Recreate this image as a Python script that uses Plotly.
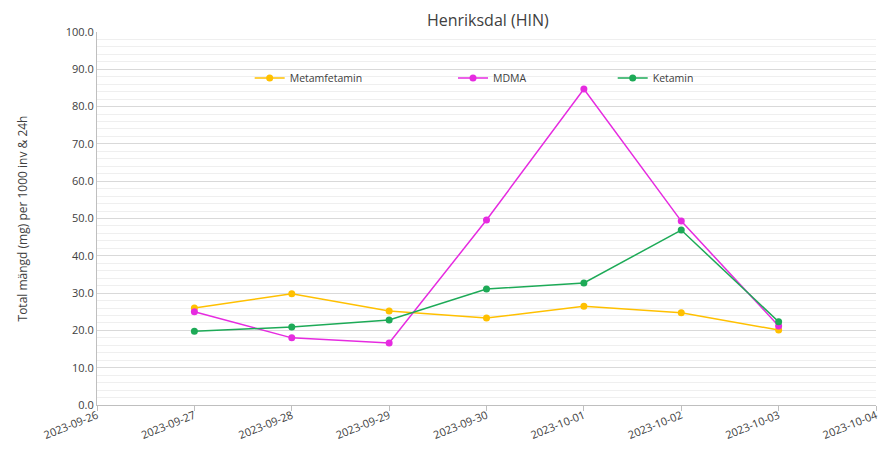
import plotly.graph_objects as go

dates = ["2023-09-27", "2023-09-28", "2023-09-29", "2023-09-30", "2023-10-01", "2023-10-02", "2023-10-03"]
metamfetamin = [26.0, 29.8, 25.2, 23.3, 26.5, 24.7, 20.1]
mdma = [25.0, 18.0, 16.6, 49.6, 84.7, 49.3, 21.2]
ketamin = [19.8, 20.9, 22.8, 31.1, 32.7, 46.9, 22.3]

series = [
    ("Metamfetamin", metamfetamin, "#FFC000", "legend", 0.196),
    ("MDMA", mdma, "#E62BE0", "legend2", 0.457),
    ("Ketamin", ketamin, "#1DAA57", "legend3", 0.662),
]

fig = go.Figure()
for name, vals, col, leg, lx in series:
    fig.add_trace(go.Scatter(
        x=dates, y=vals, name=name, mode="lines+markers",
        line=dict(color=col, width=1.5),
        marker=dict(color=col, size=7),
        legend=leg, showlegend=True,
    ))

font = "Open Sans, Liberation Sans, sans-serif"
legend_common = dict(orientation="h", yanchor="middle", xanchor="left", y=0.877,
                     bgcolor="rgba(0,0,0,0)", font=dict(size=10.5, color="#404040", family=font),
                     itemwidth=30)
fig.update_layout(
    width=878, height=442,
    margin=dict(l=89, r=10, t=24, b=45),
    paper_bgcolor="white", plot_bgcolor="white",
    showlegend=True,
    title=dict(text="Henriksdal (HIN)", x=0.5465, xanchor="center", y=0.972, yanchor="middle",
               font=dict(size=16, color="#404040", family=font)),
    legend=dict(x=series[0][4], **legend_common),
    legend2=dict(x=series[1][4], **legend_common),
    legend3=dict(x=series[2][4], **legend_common),
    xaxis=dict(
        type="date", range=["2023-09-26", "2023-10-04"], dtick=86400000,
        tickformat="%Y-%m-%d", tickangle=-22, ticks="outside", ticklen=5,
        ticklabelstandoff=-6,
        tickcolor="#bfbfbf", showgrid=False, showline=True, linecolor="#bfbfbf",
        tickfont=dict(size=11, color="#404040", family=font), automargin=False,
    ),
    yaxis=dict(
        range=[0, 100], dtick=10, tickformat=".1f", showline=True, linecolor="#bfbfbf",
        gridcolor="#d9d9d9", gridwidth=1, zeroline=False,
        minor=dict(dtick=2, showgrid=True, gridcolor="#efefef", gridwidth=1),
        tickfont=dict(size=11, color="#404040", family=font), automargin=False,
        title=dict(text="Total mängd (mg) per 1000 inv & 24h", standoff=35,
                   font=dict(size=12, color="#404040", family=font)),
    ),
)

fig.write_html("out.html")
